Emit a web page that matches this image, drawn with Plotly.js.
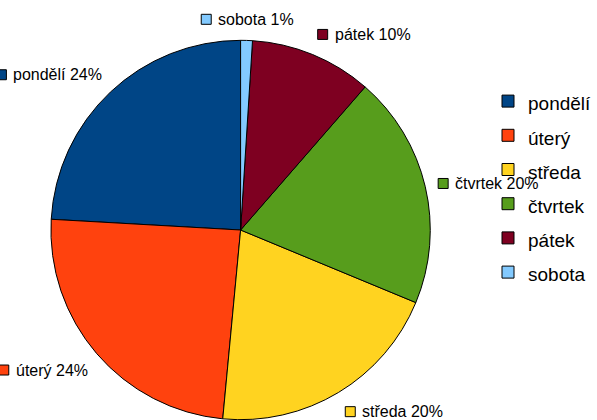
<!DOCTYPE html>
<html>
<head>
<meta charset="utf-8">
<script src="https://cdn.plot.ly/plotly-3.0.1.min.js"></script>
<style>html,body{margin:0;padding:0;background:#fff}#chart{width:597px;height:420px}</style>
</head>
<body>
<div id="chart"></div>
<script>
// Data (shares, percent)
const days = ["pondělí", "úterý", "středa", "čtvrtek", "pátek", "sobota"];
const shares = [24.1, 24.4, 20.25, 19.85, 10.4, 1.0];
const colors = ["#004586", "#ff420e", "#ffd320", "#579d1c", "#7e0021", "#83caff"];

const W = 597, H = 420;
const domX = [51 / W, 431 / W];
const domY = [0, 380 / H];
const FONT = "Liberation Sans, Arial, sans-serif";
const LABEL_SIZE = 16;

const total = shares.reduce((a, b) => a + b, 0);

// legend labels (styled so item spacing matches)
const legendLabels = days.map(d => '<span style="font-size:19px">' + d + '</span>');

// Plotly's counterclockwise pie puts the first slice clockwise of "rotation";
// shift so the first slice ends exactly at 12 o'clock.
const rot = -shares[0] / total * 360;

const trace = {
  type: "pie",
  labels: legendLabels,
  values: shares,
  sort: false,
  direction: "counterclockwise",
  rotation: rot,
  marker: { colors: colors, line: { color: "#000000", width: 1 } },
  textinfo: "none",
  hoverinfo: "none",
  domain: { x: domX, y: domY }
};

// text measuring
const ctx = document.createElement("canvas").getContext("2d");
ctx.font = LABEL_SIZE + "px 'Liberation Sans', Arial, sans-serif";

// outside labels, anchored at the box corner facing the slice's mid-angle
const cx = (domX[0] + domX[1]) / 2 * W;
const cy = (1 - (domY[0] + domY[1]) / 2) * H;
const r = Math.min((domX[1] - domX[0]) * W, (domY[1] - domY[0]) * H) / 2;
const R = r * 1.07;
const annotations = [];
const shapes = [];
const SQ = 10, GAP = 6, HBOX = 15;
let cum = 0;
shares.forEach((v, i) => {
  const midFrac = cum + v / 2;
  cum += v;
  // counterclockwise from 12 o'clock
  const th = -midFrac / total * 2 * Math.PI;
  const s = Math.sin(th), c = Math.cos(th);
  const px = cx + R * s;
  const py = cy - R * c;
  const pct = Math.round(v / total * 100);
  const label = days[i] + " " + pct + "%";
  const tw = ctx.measureText(label).width;
  const groupW = SQ + GAP + tw;
  let left, midY;
  if (Math.abs(s) < 0.3) left = px - groupW / 2;
  else if (s > 0) left = px;
  else left = px - groupW;
  if (Math.abs(c) < 0.3) midY = py;
  else if (c > 0) midY = py - HBOX / 2;
  else midY = py + HBOX / 2;
  shapes.push({
    type: "rect", xref: "paper", yref: "paper",
    x0: left / W, x1: (left + SQ) / W,
    y0: 1 - (midY + SQ / 2) / H, y1: 1 - (midY - SQ / 2) / H,
    fillcolor: colors[i], line: { color: "#000000", width: 1 }
  });
  annotations.push({
    xref: "paper", yref: "paper",
    x: (left + SQ + GAP - 1) / W, y: 1 - midY / H,
    xanchor: "left", yanchor: "middle", showarrow: false,
    text: label,
    font: { family: FONT, size: LABEL_SIZE, color: "#000" }
  });
});

const layout = {
  width: W, height: H,
  margin: { l: 0, r: 0, t: 0, b: 0 },
  paper_bgcolor: "#ffffff",
  showlegend: true,
  legend: {
    x: 489 / W, xanchor: "left", y: 1 - 79 / H, yanchor: "top",
    font: { family: FONT, size: 24, color: "#000" },
    bgcolor: "rgba(0,0,0,0)"
  },
  shapes: shapes,
  annotations: annotations
};

Plotly.newPlot("chart", [trace], layout, { displayModeBar: false, staticPlot: true });
</script>
</body>
</html>
